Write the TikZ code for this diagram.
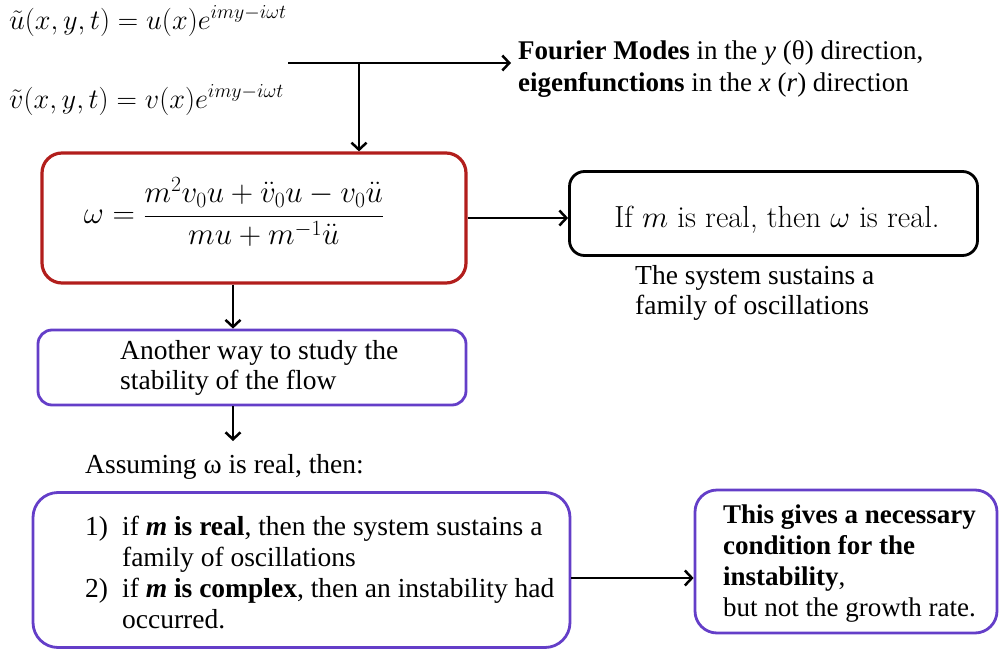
\RequirePackage{fix-cm}
\documentclass[tikz,border=0pt]{standalone}
\usepackage{fontspec}
\setmainfont{Liberation Serif}[
  BoldFont={Liberation Serif Bold},
  ItalicFont={Liberation Serif Italic},
  BoldItalicFont={Liberation Serif Bold Italic}]
\newfontfamily\lmfont{Latin Modern Roman}
\usetikzlibrary{arrows.meta}
\definecolor{boxred}{RGB}{178,30,28}
\definecolor{boxpurple}{RGB}{100,62,200}

\begin{document}
\begin{tikzpicture}[x=1pt,y=-1pt,
  conn/.style={line width=2.5pt, -{Straight Barb[length=7pt,width=15pt]}},
  frame/.style={draw, line width=2.8pt, inner sep=0pt},
  txt/.style={font=\rmfamily\fontsize{27.5}{31}\selectfont, anchor=west, align=left, inner sep=0pt},
  eq/.style={font=\fontsize{28.3}{31}\selectfont, anchor=west, inner sep=0pt},
]
\useasboundingbox (0,0) rectangle (999,653);

% boxes
\node[frame, draw=boxred, line width=3.2pt, rounded corners=20pt, minimum width=424pt, minimum height=130pt] (omega) at (254,218) {};
\node[frame, draw=black, rounded corners=15pt, minimum width=408pt, minimum height=84pt] (real) at (773.5,213.5) {};
\node[frame, draw=boxpurple, rounded corners=14pt, minimum width=428pt, minimum height=75pt] (another) at (252,367.5) {};
\node[frame, draw=boxpurple, rounded corners=25pt, minimum width=537pt, minimum height=155pt] (cases) at (301.5,570) {};
\node[frame, draw=boxpurple, rounded corners=22pt, minimum width=302pt, minimum height=143pt] (necessary) at (846,561.5) {};

% perturbation ansatz
\node[eq] (ut) at (9,21) {$\tilde u(x,y,t) = u(x)e^{imy-i\omega t}$};
\node[eq] (vt) at (9,100) {$\tilde v(x,y,t) = v(x)e^{imy-i\omega t}$};

\node[txt, font=\rmfamily\fontsize{27}{32}\selectfont] (fourier) at (518,69) {\textbf{Fourier Modes} in the \textit{y} (θ) direction,\\
  \textbf{eigenfunctions} in the \textit{x} (\textit{r}) direction};

% dispersion relation
\node[font=\fontsize{31}{34}\selectfont, inner sep=0pt] (disp) at (234,212)
  {$\displaystyle \omega = \frac{m^2v_0u+\ddot v_0u-v_0\ddot u}{mu+m^{-1}\ddot u}$};

\node[font=\lmfont\fontsize{30.5}{34}\selectfont, inner sep=0pt] (realtxt) at (777,220)
  {If $m$ is real, then $\omega$ is real.};

\node[txt, font=\rmfamily\fontsize{27.5}{30}\selectfont] (family) at (635,293)
  {The system sustains a\\ family of oscillations};

\node[txt, font=\rmfamily\fontsize{27.5}{30}\selectfont] (anothertxt) at (120,368)
  {Another way to study the\\ stability of the flow};

\node[txt] (assume) at (85,467) {Assuming ω is real, then:};

\node[txt] (casestxt) at (85,576) {%
  \begin{tabular}{@{}l@{\hspace{14pt}}l@{}}
  1) & if \textbf{\textit{m} is real}, then the system sustains a\\
     & family of oscillations\\
  2) & if \textbf{\textit{m} is complex}, then an instability had\\
     & occurred.
  \end{tabular}};

\node[txt, font=\rmfamily\fontsize{27}{31}\selectfont] (necessarytxt) at (723,564) {\textbf{This gives a necessary}\\
  \textbf{condition for the}\\
  \textbf{instability},\\
  but not the growth rate.};

% connectors
\coordinate (split) at (288,63);
\coordinate (junction) at (359,63);
\coordinate (fourierend) at (511,63);
\coordinate (assumeend) at (233,441);

\draw[conn] (split) -- (fourierend);
\draw[conn] (junction) -- (junction |- omega.north);
\draw[conn] (omega.east |- 0,218) -- (real.west |- 0,218);
\draw[conn] (omega.south -| 233,0) -- (another.north -| 233,0);
\draw[conn] (another.south -| 233,0) -- (assumeend);
\draw[conn] (cases.east |- 0,578) -- (necessary.west |- 0,578);
\end{tikzpicture}
\end{document}
